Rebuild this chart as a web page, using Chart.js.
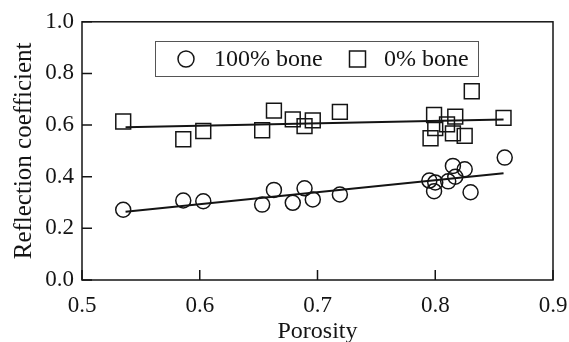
<!DOCTYPE html>
<html>
<head>
<meta charset="utf-8">
<script src="https://cdn.jsdelivr.net/npm/chart.js@4/dist/chart.umd.min.js"></script>
<style>
  html, body { margin: 0; padding: 0; background: #fff; }
  #wrap { width: 569px; height: 342px; }
</style>
</head>
<body>
<div id="wrap"><canvas id="chart" width="569" height="342"></canvas></div>
<script>
// 100% bone (circles)
const porosityBone = [0.535, 0.586, 0.603, 0.653, 0.663, 0.679, 0.689, 0.696, 0.719,
  0.795, 0.800, 0.799, 0.811, 0.817, 0.815, 0.825, 0.830, 0.859];
const reflBone = [0.272, 0.308, 0.305, 0.292, 0.349, 0.299, 0.355, 0.312, 0.331,
  0.385, 0.378, 0.344, 0.382, 0.400, 0.442, 0.429, 0.340, 0.474];

// 0% bone (squares)
const porosityNoBone = [0.535, 0.586, 0.603, 0.653, 0.663, 0.679, 0.689, 0.696, 0.719,
  0.799, 0.817, 0.810, 0.800, 0.796, 0.815, 0.825, 0.831, 0.858];
const reflNoBone = [0.614, 0.545, 0.577, 0.580, 0.656, 0.622, 0.596, 0.618, 0.651,
  0.639, 0.633, 0.603, 0.588, 0.549, 0.568, 0.558, 0.731, 0.628];

// linear fits (end points)
const fitX = [0.537, 0.858];
const fitBone = [0.264, 0.413];
const fitNoBone = [0.592, 0.622];

const xTicks = [0.5, 0.6, 0.7, 0.8, 0.9];
const yTicks = [0.0, 0.2, 0.4, 0.6, 0.8, 1.0];
const seriesLabels = ['100% bone', '0% bone'];

const ink = '#141414';
const serif = '"Liberation Serif", "Times New Roman", serif';

function pts(xs, ys) {
  return xs.map((x, i) => ({ x: x, y: ys[i] }));
}

// inward ticks, frame box and legend
const framePlugin = {
  id: 'frame',
  afterDraw(chart) {
    const ctx = chart.ctx;
    const area = chart.chartArea;
    const xs = chart.scales.x;
    const ys = chart.scales.y;
    ctx.save();
    ctx.strokeStyle = ink;
    ctx.lineWidth = 1.5;
    ctx.strokeRect(area.left, area.top, area.right - area.left, area.bottom - area.top);
    ctx.beginPath();
    xTicks.forEach(v => {
      const px = xs.getPixelForValue(v);
      ctx.moveTo(px, area.bottom);
      ctx.lineTo(px, area.bottom - 10);
    });
    yTicks.forEach(v => {
      const py = ys.getPixelForValue(v);
      ctx.moveTo(area.left, py);
      ctx.lineTo(area.left + 10, py);
    });
    ctx.stroke();

    // legend
    ctx.strokeStyle = '#555';
    ctx.lineWidth = 1;
    ctx.strokeRect(155.5, 41.5, 323, 35);
    ctx.strokeStyle = ink;
    ctx.lineWidth = 1.5;
    ctx.beginPath();
    ctx.arc(186, 59, 8, 0, Math.PI * 2);
    ctx.stroke();
    ctx.strokeRect(349.5, 51, 16, 16);
    ctx.fillStyle = ink;
    ctx.font = '24px ' + serif;
    ctx.textBaseline = 'middle';
    ctx.fillText(seriesLabels[0], 214, 60);
    ctx.fillText(seriesLabels[1], 384, 60);
    ctx.restore();
  }
};

new Chart(document.getElementById('chart').getContext('2d'), {
  type: 'scatter',
  data: {
    datasets: [
      {
        label: seriesLabels[0],
        data: pts(porosityBone, reflBone),
        pointStyle: 'circle',
        pointRadius: 7.5,
        borderColor: ink,
        borderWidth: 1.5,
        backgroundColor: 'rgba(0,0,0,0)',
      },
      {
        label: seriesLabels[1],
        data: pts(porosityNoBone, reflNoBone),
        pointStyle: 'rect',
        pointRadius: 10.5,
        borderColor: ink,
        borderWidth: 1.5,
        backgroundColor: 'rgba(0,0,0,0)',
      },
      {
        label: 'fit100',
        data: pts(fitX, fitBone),
        showLine: true,
        pointRadius: 0,
        borderColor: ink,
        borderWidth: 2,
      },
      {
        label: 'fit0',
        data: pts(fitX, fitNoBone),
        showLine: true,
        pointRadius: 0,
        borderColor: ink,
        borderWidth: 2,
      },
    ],
  },
  options: {
    responsive: false,
    animation: false,
    layout: { padding: { left: 0, top: 20, right: 16, bottom: 0 } },
    plugins: {
      legend: { display: false },
      tooltip: { enabled: false },
    },
    scales: {
      x: {
        type: 'linear',
        min: 0.5,
        max: 0.9,
        afterBuildTicks: s => { s.ticks = xTicks.map(v => ({ value: v })); },
        afterFit: s => {
          s.height = 62;
          s.paddingLeft = 0;
          s.paddingRight = 16;
        },
        grid: { display: false, drawTicks: false },
        border: { display: false },
        ticks: {
          padding: 12,
          color: ink,
          font: { family: serif, size: 23 },
          callback: v => v.toFixed(1),
        },
        title: {
          display: true,
          text: 'Porosity',
          color: ink,
          font: { family: serif, size: 24, lineHeight: 0.87 },
          padding: { top: 0, bottom: 0 },
        },
      },
      y: {
        min: 0,
        max: 1,
        afterBuildTicks: s => { s.ticks = yTicks.map(v => ({ value: v })); },
        afterFit: s => { s.width = 82; },
        grid: { display: false, drawTicks: false },
        border: { display: false },
        ticks: {
          padding: 8,
          color: ink,
          font: { family: serif, size: 23 },
          callback: v => v.toFixed(1),
        },
        title: {
          display: true,
          text: 'Reflection coefficient',
          color: ink,
          font: { family: serif, size: 25, lineHeight: 1.2 },
          padding: { top: 9, bottom: 0 },
        },
      },
    },
  },
  plugins: [framePlugin],
});
</script>
</body>
</html>
